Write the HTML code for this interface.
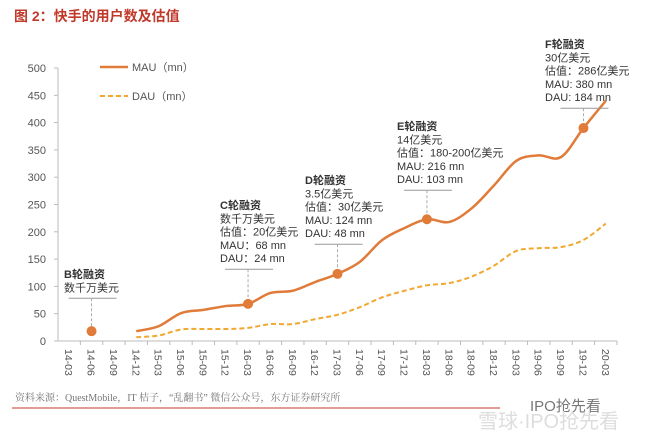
<!DOCTYPE html>
<html><head><meta charset="utf-8"><style>
body{margin:0;background:#fff;width:660px;height:437px;overflow:hidden;font-family:"Liberation Sans","Noto Sans CJK SC",sans-serif}
</style></head><body>
<svg width="660" height="437" xmlns="http://www.w3.org/2000/svg" font-family="Liberation Sans, Noto Sans CJK SC, sans-serif">
<text x="14" y="21" font-size="14" font-weight="bold" fill="#c0392b">图 2：快手的用户数及估值</text>
<g id="axes"></g>
<g id="series"></g>
<g id="notes"></g>
<g>
<line x1="100" y1="67" x2="128" y2="67" stroke="#e07b39" stroke-width="2.5"/>
<text x="132" y="71" font-size="11" fill="#555">MAU（mn）</text>
<line x1="100" y1="96" x2="128" y2="96" stroke="#f0a830" stroke-width="2" stroke-dasharray="5,3"/>
<text x="132" y="100" font-size="11" fill="#555">DAU（mn）</text>
</g>
<text x="15" y="401" font-size="10" fill="#777" font-family="Liberation Serif, Noto Serif CJK SC, serif">资料来源：QuestMobile，IT 桔子，“乱翻书” 微信公众号，东方证券研究所</text>
<line x1="12" y1="408" x2="500" y2="408" stroke="#c0392b" stroke-width="1"/>
<text x="530" y="411" font-size="15" fill="#777">IPO抢先看</text>
<text x="478" y="428" font-size="20" fill="#ddd">雪球·IPO抢先看</text>
</svg>
<script>
const cats=["14-03","14-06","14-09","14-12","15-03","15-06","15-09","15-12","16-03","16-06","16-09","16-12","17-03","17-06","17-09","17-12","18-03","18-06","18-09","18-12","19-03","19-06","19-09","19-12","20-03"];
const yTicks=[0,50,100,150,200,250,300,350,400,450,500];
const mau=[null,null,null,18,27,51,57,64,68,88,92,108,123,145,185,207,223,218,243,285,330,340,337,390,440];
const dau=[null,null,null,7,10,21,22,22,24,31,31,40,48,62,80,92,102,106,118,138,165,170,172,185,215];
const rounds=[{i:1,v:18},{i:8,v:68},{i:12,v:123},{i:16,v:223},{i:23,v:390}];
const NS="http://www.w3.org/2000/svg";
const x0=58,x1=617,yB=341,yT=68;
const bw=(x1-x0)/cats.length;
const X=i=>x0+bw/2+i*bw, Y=v=>yB-(v/500)*(yB-yT);
function el(t,a,p){const e=document.createElementNS(NS,t);for(const k in a)e.setAttribute(k,a[k]);p.appendChild(e);return e;}
const ax=document.getElementById('axes');
el('line',{x1:x0,y1:yT,x2:x0,y2:yB,stroke:'#bbb'},ax);
el('line',{x1:x0,y1:yB,x2:x1,y2:yB,stroke:'#bbb'},ax);
yTicks.forEach(v=>{el('line',{x1:x0-4,y1:Y(v),x2:x0,y2:Y(v),stroke:'#bbb'},ax);
const t=el('text',{x:x0-12,y:Y(v)+4,'font-size':11,fill:'#555','text-anchor':'end'},ax);t.textContent=v;

});
cats.forEach((c,i)=>{el('line',{x1:x0+i*bw+bw,y1:yB,x2:x0+i*bw+bw,y2:yB+4,stroke:'#bbb'},ax);
const t=el('text',{x:0,y:0,'font-size':10.5,fill:'#555',transform:`translate(${X(i)-4},${yB+8}) rotate(90)`},ax);t.textContent=c;

});
function path(arr){const p=[];arr.forEach((v,i)=>{if(v!=null)p.push([X(i),Y(v)]);});
let d=`M${p[0][0]},${p[0][1]}`;
for(let k=0;k<p.length-1;k++){const a=p[k-1]||p[k],b=p[k],c=p[k+1],e=p[k+2]||c;
d+=` C${b[0]+(c[0]-a[0])/6},${b[1]+(c[1]-a[1])/6} ${c[0]-(e[0]-b[0])/6},${c[1]-(e[1]-b[1])/6} ${c[0]},${c[1]}`;}return d;}
const s=document.getElementById('series');
const pm=el('path',{d:path(mau),fill:'none',stroke:'#e07b39','stroke-width':2.5},s);


const pd=el('path',{d:path(dau),fill:'none',stroke:'#f0a830','stroke-width':2,'stroke-dasharray':'5,3'},s);


const notes=[
 {lines:["B轮融资","数千万美元"],x:64,y:278},
 {lines:["C轮融资","数千万美元","估值：20亿美元","MAU：68 mn","DAU：24 mn"],x:220,y:209},
 {lines:["D轮融资","3.5亿美元","估值：30亿美元","MAU: 124 mn","DAU: 48 mn"],x:305,y:184},
 {lines:["E轮融资","14亿美元","估值：180-200亿美元","MAU: 216 mn","DAU: 103 mn"],x:397,y:130},
 {lines:["F轮融资","30亿美元","估值：286亿美元","MAU: 380 mn","DAU: 184 mn"],x:545,y:48}];
const g=document.getElementById('notes');
rounds.forEach((r,k)=>{const n=notes[k];const ly=n.y+(n.lines.length-1)*13.3+7;
n.lines.forEach((l,j)=>{const t=el('text',{x:n.x,y:n.y+j*13.3,'font-size':11,fill:'#333','font-weight':j==0?'bold':'normal'},g);t.textContent=l;

});
el('line',{x1:X(r.i)-23,y1:ly,x2:X(r.i)+25,y2:ly,stroke:'#999'},g);
el('line',{x1:X(r.i),y1:ly,x2:X(r.i),y2:Y(r.v),stroke:'#aaa','stroke-dasharray':'3,2'},g);
const c=el('circle',{cx:X(r.i),cy:Y(r.v),r:5,fill:'#e07b39'},g);

});
</script>
</body></html>
